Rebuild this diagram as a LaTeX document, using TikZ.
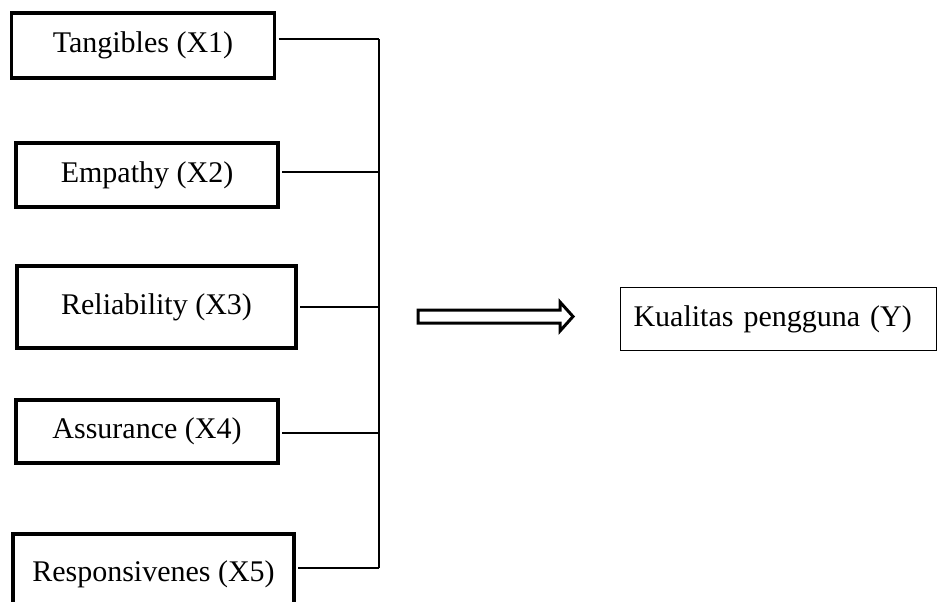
\documentclass[tikz,border=0pt]{standalone}
\usepackage{fontspec}
\setmainfont{Liberation Serif}
\usetikzlibrary{calc}

\begin{document}
\begin{tikzpicture}[x=0.4pt, y=-0.4pt,
        dim/.style={draw, line width=1.25pt, inner sep=0pt, font=\fontsize{12}{14}\selectfont},
        link/.style={line width=0.85pt, shorten <=1pt}]
        \useasboundingbox (0,0) rectangle (937,601);
        \clip (0,0) rectangle (937,601);
        \node[dim, minimum width=105.2pt, minimum height=26pt] (X1) at (143,45.5) {Tangibles (X1)};
        \node[dim, minimum width=104.8pt, minimum height=25.6pt] (X2) at (147,175) {Empathy (X2)};
        \node[dim, minimum width=111.6pt, minimum height=32.8pt] (X3) at (156.5,307) {Reliability (X3)};
        \node[dim, minimum width=104.8pt, minimum height=25.2pt] (X4) at (147,431.5) {Assurance (X4)};
        \node[dim, minimum width=112.4pt, minimum height=32pt] (X5) at (153.5,574) {Responsivenes (X5)};
        \node[draw, line width=0.45pt, anchor=west, text width=115.8pt, align=left, inner xsep=5.4pt, minimum height=25.2pt, font=\fontsize{12}{14}\selectfont] (Y) at (619.5,319) {Kualitas pengguna (Y)};
        \coordinate (j1) at (379,39);
        \coordinate (j2) at (379,172);
        \coordinate (j3) at (379,307);
        \coordinate (j4) at (379,433);
        \coordinate (j5) at (379,568);
        \draw[link] (X1.east |- j1) -- (j1);
        \draw[link] (X2.east |- j2) -- (j2);
        \draw[link] (X3.east |- j3) -- (j3);
        \draw[link] (X4.east |- j4) -- (j4);
        \draw[link] (X5.east |- j5) -- (j5);
        \draw[line width=0.55pt] (j1) -- (j5);
        \coordinate (a) at (418,316.5);
        \draw[line width=1.2pt, line join=miter] (a) ++(0,-6.5) -- ++(142,0) -- ++(0,-8) -- ++(13,14.5) -- ++(-13,14.5) -- ++(0,-8) -- ++(-142,0) -- cycle;
    \end{tikzpicture}
\end{document}
